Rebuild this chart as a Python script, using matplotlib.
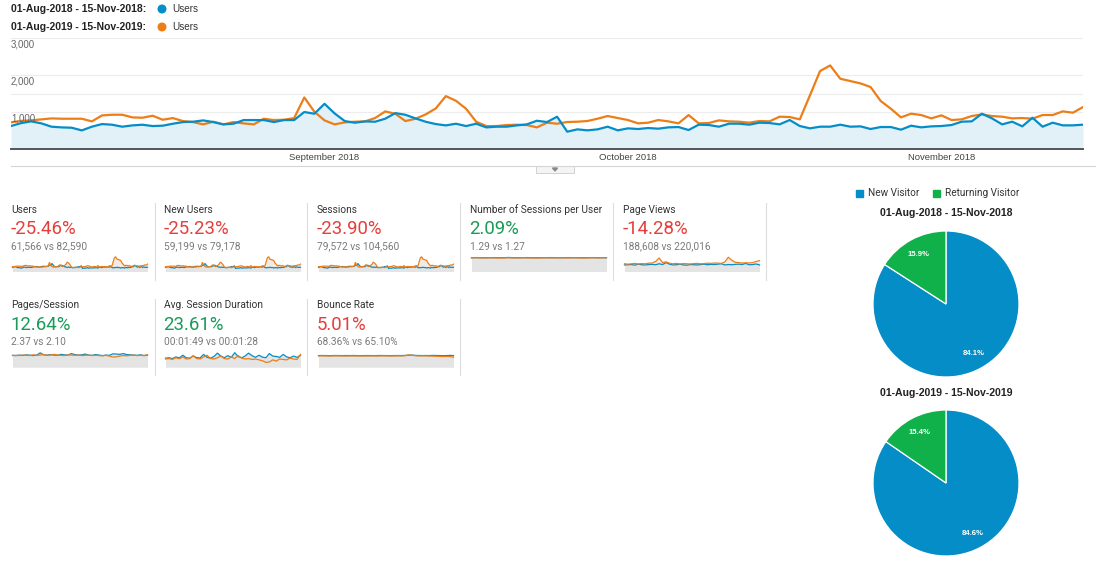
import matplotlib
matplotlib.use('Agg')
import matplotlib.pyplot as plt
from matplotlib.patches import Rectangle, Polygon, Circle

# ---------------- data ----------------
period_2018 = '01-Aug-2018 - 15-Nov-2018'
period_2019 = '01-Aug-2019 - 15-Nov-2019'
y_tick_values = [1000, 2000, 3000]
y_tick_labels = ['1,000', '2,000', '3,000']
grid_values = [1000, 1500, 2000, 3000]
month_labels = ['September 2018', 'October 2018', 'November 2018']
month_index = [31, 61, 92]

users_2018 = [621, 700, 747, 693, 603, 584, 575, 503, 603, 674, 656, 603, 638, 656, 620, 630,
              683, 728, 737, 773, 728, 665, 683, 782, 782, 782, 728, 782, 782, 1000, 953, 1222,
              962, 755, 710, 746, 737, 818, 970, 925, 827, 737, 674, 638, 683, 620, 683, 584,
              603, 603, 638, 665, 764, 728, 873, 468, 531, 504, 531, 603, 504, 558, 540, 567,
              549, 585, 594, 513, 657, 648, 603, 684, 684, 657, 711, 702, 666, 783, 621, 558,
              603, 603, 657, 603, 612, 540, 594, 594, 522, 630, 585, 612, 621, 648, 738, 747,
              954, 828, 666, 738, 612, 846, 603, 711, 639, 639, 657]
users_2019 = [720, 760, 775, 800, 827, 818, 818, 818, 746, 908, 926, 926, 854, 845, 899, 791,
              836, 755, 728, 665, 737, 665, 728, 692, 665, 818, 782, 791, 836, 1393, 1006, 773,
              665, 719, 737, 746, 836, 1015, 952, 755, 818, 934, 1096, 1429, 1303, 1087, 737, 620,
              620, 647, 656, 647, 584, 710, 684, 729, 738, 756, 819, 891, 837, 783, 693, 711,
              783, 747, 693, 918, 693, 702, 774, 747, 738, 711, 756, 747, 873, 864, 801, 1450,
              2106, 2259, 1899, 1836, 1773, 1674, 1296, 1089, 855, 954, 918, 828, 909, 783, 801, 891,
              936, 891, 873, 828, 837, 819, 918, 918, 1017, 981, 1134]

kpi_titles = ['Users', 'New Users', 'Sessions', 'Number of Sessions per User', 'Page Views',
              'Pages/Session', 'Avg. Session Duration', 'Bounce Rate']
kpi_changes = ['-25.46%', '-25.23%', '-23.90%', '2.09%', '-14.28%', '12.64%', '23.61%', '5.01%']
kpi_good = [False, False, False, True, False, True, True, False]
kpi_compare = ['61,566 vs 82,590', '59,199 vs 79,178', '79,572 vs 104,560', '1.29 vs 1.27',
               '188,608 vs 220,016', '2.37 vs 2.10', '00:01:49 vs 00:01:28', '68.36% vs 65.10%']

spu_2018 = [1.29, 1.30, 1.29, 1.28, 1.29, 1.30, 1.29, 1.29, 1.31, 1.29, 1.28, 1.29, 1.30, 1.29, 1.28,
            1.29, 1.29, 1.30, 1.29, 1.28, 1.29, 1.30, 1.29, 1.29, 1.28, 1.29, 1.30, 1.29, 1.29, 1.28]
spu_2019 = [1.27, 1.28, 1.27, 1.27, 1.28, 1.27, 1.26, 1.27, 1.28, 1.27, 1.27, 1.28, 1.27, 1.27, 1.26,
            1.27, 1.28, 1.27, 1.27, 1.28, 1.27, 1.27, 1.28, 1.27, 1.26, 1.27, 1.28, 1.27, 1.28, 1.29]
pv_2018 = [1700, 1750, 1800, 1650, 1900, 1750, 1700, 1800, 1850, 1750, 2000, 1800, 2300, 1900, 1700,
           1750, 1900, 1700, 1650, 1800, 1750, 1700, 1800, 1900, 1750, 1850, 1800, 1900, 2000, 1700,
           1800, 1750, 1850, 1900, 1800, 2100, 1750, 1800, 1950, 1700]
pv_2019 = [2000, 1900, 2000, 2100, 1950, 2050, 2000, 2150, 2200, 2600, 3500, 2300, 2500, 2150, 2000,
           2100, 1950, 2050, 2000, 1950, 2050, 2100, 2000, 2050, 2150, 2100, 2200, 2150, 2100, 2500,
           3700, 2900, 2400, 2300, 2200, 2250, 2200, 2300, 2600, 2800]
pps_2018 = [2.35, 2.30, 2.40, 2.32, 2.45, 2.38, 2.30, 2.40, 2.85, 2.45, 2.38, 2.50, 2.40, 2.35, 2.55,
            2.45, 2.40, 2.70, 2.50, 2.40, 2.45, 2.60, 2.40, 2.35, 2.50, 2.40, 2.30, 2.40, 2.35, 2.65,
            2.60, 2.55, 2.70, 2.50, 2.45, 2.40, 2.35, 2.45, 2.30, 2.40]
pps_2019 = [2.30, 2.35, 2.30, 2.40, 2.35, 2.30, 2.45, 2.35, 2.40, 2.50, 2.35, 2.40, 2.55, 2.40, 2.35,
            2.30, 2.45, 2.40, 2.35, 2.40, 2.30, 2.35, 2.40, 2.30, 2.35, 2.30, 2.25, 2.35, 2.20, 2.00,
            2.05, 2.20, 2.30, 2.25, 2.35, 2.40, 2.30, 2.35, 2.30, 2.50]
asd_2018 = [105, 110, 100, 120, 108, 140, 110, 105, 130, 112, 108, 150, 115, 105, 125, 165, 130, 110,
            135, 115, 170, 125, 110, 130, 165, 135, 115, 140, 118, 110, 160, 130, 125, 115, 150, 120,
            110, 130, 115, 140]
asd_2019 = [95, 100, 90, 110, 98, 120, 95, 100, 135, 100, 95, 120, 140, 100, 95, 110, 130, 100, 95,
            120, 100, 135, 105, 95, 100, 90, 95, 85, 75, 55, 60, 85, 70, 95, 90, 85, 105, 95, 90, 150]
br_2018 = [68, 68.5, 68, 67.5, 68, 68.5, 68, 67.8, 68.2, 68, 68.5, 68, 67.5, 68, 68.2, 68, 67.8, 68,
           68.5, 68, 68, 67.5, 68, 68.3, 68, 69, 70, 71, 69, 68.5, 68, 68.5, 68, 69, 68.5, 68, 67.5,
           68, 69, 68]
br_2019 = [66, 66.5, 66, 65.5, 66, 66.5, 66, 65.8, 65.5, 66, 65.8, 66, 65.5, 66, 65.5, 65.8, 66, 65.5,
           66, 66.2, 66, 65.5, 66, 66.5, 66, 67, 72, 70, 67, 66, 66.5, 66, 65.5, 65, 64, 63, 62.5, 63,
           62, 58]

pie_labels = ['New Visitor', 'Returning Visitor']
pie_2018 = [84.1, 15.9]
pie_2019 = [84.6, 15.4]

# ---------------- styling ----------------
W, H = 1102, 564
BLUE = '#058dc7'
ORANGE = '#ed7e17'
GREEN_PIE = '#10b04a'
RED_TXT = '#e43f3b'
GREEN_TXT = '#1b9a58'
SANS = ['Liberation Sans', 'DejaVu Sans']
ROBO = ['Roboto', 'DejaVu Sans']

fig = plt.figure(figsize=(W / 100, H / 100), dpi=100)
fig.patch.set_facecolor('white')


def px_axes(x0, y0, x1, y1, **kw):
    return fig.add_axes([x0 / W, 1 - y1 / H, (x1 - x0) / W, (y1 - y0) / H], **kw)


# ---------------- main line chart ----------------
CX0, CX1, CY_TOP, CY_BOT = 11, 1083, 38, 149
ax = px_axes(CX0, CY_TOP, CX1, CY_BOT)
n = len(users_2018)
xs = list(range(n))
ax.set_xlim(0, n - 1)
ax.set_ylim(0, 3000)
for g in grid_values:
    ax.axhline(g, color='#ececec', lw=0.8, zorder=0)
ax.fill_between(xs, users_2018, 0, color='#e2f0f8', lw=0, zorder=1)
ax.plot(xs, users_2019, color=ORANGE, lw=1.6, zorder=3, solid_joinstyle='round')
ax.plot(xs, users_2018, color=BLUE, lw=1.6, zorder=4, solid_joinstyle='round')
for s in ['top', 'right', 'left']:
    ax.spines[s].set_visible(False)
ax.spines['bottom'].set_color('#555555')
ax.spines['bottom'].set_linewidth(1.4)
ax.set_xticks([])
ax.set_yticks([])
ax.patch.set_alpha(0)

# ---------------- overlay for text / shapes ----------------
ov = fig.add_axes([0, 0, 1, 1], zorder=10)
ov.set_xlim(0, W)
ov.set_ylim(H, 0)
ov.axis('off')
ov.patch.set_alpha(0)

# legend at top
ov.text(11, 9.5, period_2018 + ':', fontsize=7.5, fontweight='bold', color='#222222',
        family=SANS, va='center', ha='left')
ov.text(11, 27.5, period_2019 + ':', fontsize=7.5, fontweight='bold', color='#222222',
        family=SANS, va='center', ha='left')
ov.add_patch(Circle((162, 9), 3.8, color=BLUE))
ov.add_patch(Circle((162, 27), 3.8, color=ORANGE))
ov.text(172, 9.5, 'Users', fontsize=7.2, color='#333333', family=SANS, va='center', ha='left')
ov.text(172, 27.5, 'Users', fontsize=7.2, color='#333333', family=SANS, va='center', ha='left')

# y labels
def val_to_py(v):
    return CY_BOT - (CY_BOT - CY_TOP) * v / 3000.0

for v, lab in zip(y_tick_values, y_tick_labels):
    ov.text(11, val_to_py(v) + 6.5, lab, fontsize=7, color='#666666', family=SANS,
            va='center', ha='left')

# month labels
for i, lab in zip(month_index, month_labels):
    xpx = CX0 + (CX1 - CX0) * i / (n - 1)
    ov.text(xpx, 157.5, lab, fontsize=6.8, color='#444444', family=SANS, va='center', ha='center')

# separator + tab
ov.plot([11, 1095], [165.5, 165.5], color='#d5d5d5', lw=0.8)
ov.add_patch(Rectangle((536, 165.5), 38, 7.5, facecolor='#f4f4f4', edgecolor='#cccccc', lw=0.6))
ov.add_patch(Polygon([(552.5, 168), (557.5, 168), (555, 171)], closed=True, color='#888888'))

# ---------------- KPI panels ----------------
cols = [11, 164, 317, 470, 623]
rows = [210, 305.5]
spark_data = [(users_2018, users_2019), (users_2018, users_2019), (users_2018, users_2019),
              (spu_2018, spu_2019), (pv_2018, pv_2019), (pps_2018, pps_2019),
              (asd_2018, asd_2019), (br_2018, br_2019)]
spark_headroom = [1.02, 1.02, 1.02, 1.07, 1.05, 1.06, 1.05, 1.24]
positions = [(cols[0], rows[0]), (cols[1], rows[0]), (cols[2], rows[0]), (cols[3], rows[0]),
             (cols[4], rows[0]), (cols[0], rows[1]), (cols[1], rows[1]), (cols[2], rows[1])]

for k, (x0, y0) in enumerate(positions):
    ov.text(x0, y0, kpi_titles[k], fontsize=7.3, color='#333333', family=ROBO,
            va='center', ha='left')
    ov.text(x0 - 0.5, y0 + 19.5, kpi_changes[k], fontsize=13.4,
            color=GREEN_TXT if kpi_good[k] else RED_TXT, family=ROBO, va='center', ha='left')
    ov.text(x0, y0 + 36.5, kpi_compare[k], fontsize=7.3, color='#7a7a7a', family=ROBO,
            va='center', ha='left')
    a18, a19 = spark_data[k]
    sx = px_axes(x0 + 1.5, y0 + 46.5, x0 + 136.5, y0 + 61.5)
    xx = list(range(len(a18)))
    top = max(max(a18), max(a19))
    sx.set_xlim(0, len(a18) - 1)
    sx.set_ylim(0, top * spark_headroom[k])
    sx.fill_between(xx, a19, 0, color='#f3ebe3', lw=0)
    sx.fill_between(xx, a18, 0, color='#e4e4e4', lw=0)
    sx.plot(xx, a18, color=BLUE, lw=0.9, clip_on=False)
    sx.plot(xx, a19, color=ORANGE, lw=0.9, clip_on=False)
    sx.axis('off')

# separators between panels
for xs_ in [155, 307, 460, 613, 766]:
    ov.plot([xs_, xs_], [203, 280], color='#dddddd', lw=0.8)
for xs_ in [155, 307, 460]:
    ov.plot([xs_, xs_], [299, 375], color='#dddddd', lw=0.8)

# ---------------- pies ----------------
ov.add_patch(Rectangle((856, 189.5), 7, 7, color=BLUE))
ov.text(868, 193.5, pie_labels[0], fontsize=7.2, color='#333333', family=ROBO, va='center', ha='left')
ov.add_patch(Rectangle((933, 189.5), 7, 7, color=GREEN_PIE))
ov.text(945, 193.5, pie_labels[1], fontsize=7.2, color='#333333', family=ROBO, va='center', ha='left')

for vals, title, cy, ty in [(pie_2018, period_2018, 304, 213), (pie_2019, period_2019, 483, 393)]:
    ov.text(946, ty, title, fontsize=7.6, fontweight='bold', color='#222222', family=SANS,
            va='center', ha='center')
    pa = px_axes(946 - 73, cy - 73, 946 + 73, cy + 73)
    wedges, texts, autot = pa.pie(vals, colors=[BLUE, GREEN_PIE], startangle=90, counterclock=False,
                                  autopct='%.1f%%', pctdistance=0.78,
                                  wedgeprops=dict(edgecolor='white', linewidth=0.9),
                                  textprops=dict(color='white', fontsize=5.6, fontweight='bold',
                                                 family=SANS))
    pa.set_xlim(-1, 1)
    pa.set_ylim(-1, 1)
    pa.set_aspect('equal')
    pa.axis('off')

fig.savefig('out.png', dpi=100, facecolor='white')
